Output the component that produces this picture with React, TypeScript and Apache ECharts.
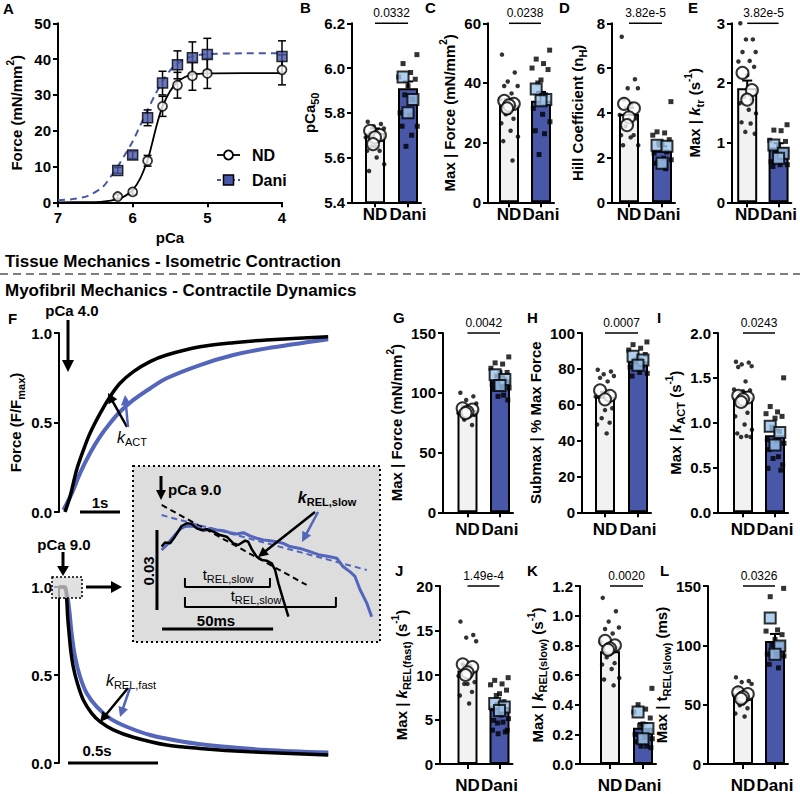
import React, { useEffect, useRef } from 'react';
import * as echarts from 'echarts';

const FONT = '"Liberation Sans", Arial, Helvetica, sans-serif';
const BLUE = '#4857a8';
const TRACE_BLUE = '#5466bb';
const LIGHT_BLUE = '#9ec4ea';
const ND_FILL = '#f2f2f2';

// ---------------- Panel A : force-pCa ----------------
const pCaSteps = [6.2, 6.0, 5.8, 5.6, 5.4, 5.2, 5.0, 4.0];
const ndForce = [1.6, 2.9, 11.6, 26.8, 32.7, 35.3, 36.0, 37.0];
const ndForceSem = [0.6, 0.7, 1.5, 2.8, 3.6, 4.0, 4.2, 4.2];
const daniForce = [8.9, 13.2, 23.6, 33.3, 38.4, 40.4, 41.3, 40.7];
const daniForceSem = [0.8, 1.0, 2.2, 3.3, 3.9, 4.4, 4.5, 4.4];
const ndFitPCa = [7.0, 6.6, 6.4, 6.2, 6.1, 6.0, 5.9, 5.8, 5.75, 5.7, 5.65, 5.6, 5.5, 5.4, 5.3, 5.2, 5.0, 4.5, 4.0];
const ndFitForce = [0, 0.05, 0.2, 0.9, 1.8, 3.4, 6.6, 11.8, 15.6, 19.8, 23.6, 26.8, 31.0, 33.6, 35.0, 35.7, 36.0, 36.1, 36.1];
const daniFitPCa = [7.0, 6.8, 6.6, 6.4, 6.3, 6.2, 6.1, 6.0, 5.9, 5.8, 5.7, 5.6, 5.5, 5.4, 5.3, 5.2, 5.0, 4.5, 4.0];
const daniFitForce = [0.6, 0.9, 1.8, 4.3, 7.0, 10.0, 13.4, 17.0, 21.4, 25.8, 30.0, 33.8, 36.8, 38.8, 40.0, 40.8, 41.4, 41.6, 41.6];

// ---------------- Bar panels (ND vs Dani) ----------------
// B pCa50
const pca50Means = [5.71, 5.91];
const pca50Sem = [0.02, 0.03];
const pca50ND = [5.76, 5.75, 5.74, 5.73, 5.71, 5.71, 5.69, 5.68, 5.65, 5.65, 5.63, 5.63, 5.60, 5.57, 5.54];
const pca50NDHearts = [5.72, 5.70, 5.69, 5.66];
const pca50Dani = [6.06, 6.02, 5.98, 5.96, 5.95, 5.92, 5.88, 5.86, 5.80, 5.79, 5.74, 5.74, 5.70, 5.65];
const pca50DaniHearts = [5.96, 5.86, 5.80];
// C tissue max force
const tForceMeans = [32.6, 34.0];
const tForceSem = [2.0, 3.0];
const tForceND = [49.5, 43.5, 40.5, 39, 39, 36.5, 34.5, 32, 30, 29.5, 28, 26.5, 24, 22, 20.5, 14];
const tForceNDHearts = [34, 33, 32.5, 31.5];
const tForceDani = [51, 48, 46.5, 45, 44.5, 41, 40, 36, 31.5, 29.5, 27, 24, 23, 16];
const tForceDaniHearts = [38, 34.5, 34];
// D Hill coefficient
const hillMeans = [3.95, 2.3];
const hillSem = [0.28, 0.2];
const hillND = [7.4, 5.5, 5.1, 5.1, 4.6, 4.4, 3.9, 3.75, 3.7, 3.4, 3.0, 3.0, 2.9, 2.55, 2.55];
const hillNDHearts = [4.4, 4.2, 3.8, 3.45];
const hillDani = [4.5, 3.15, 3.1, 3.0, 2.8, 2.65, 2.65, 2.25, 2.2, 1.97, 1.9, 1.75, 1.5];
const hillDaniHearts = [2.55, 2.5, 1.75];
// E ktr
const ktrMeans = [1.91, 0.92];
const ktrSem = [0.13, 0.07];
const ktrND = [3.0, 2.73, 2.73, 2.52, 2.52, 2.37, 2.36, 2.27, 2.13, 1.77, 1.72, 1.66, 1.55, 1.49, 1.34, 1.32, 1.18, 1.15];
const ktrNDHearts = [2.17, 1.88, 1.72];
const ktrDani = [1.3, 1.21, 1.2, 1.04, 1.02, 0.95, 0.85, 0.77, 0.68, 0.63, 0.63, 0.6];
const ktrDaniHearts = [0.96, 0.82, 0.74];
// G myofibril max force
const mForceMeans = [85.5, 111];
const mForceSem = [2.5, 2.8];
const mForceND = [100, 97, 94, 91, 88.5, 85, 83, 81.5, 80, 77.5, 73];
const mForceNDHearts = [87, 86, 84, 83];
const mForceDani = [130, 125, 124, 120.5, 117, 117, 114, 111, 107, 104.5, 104, 103, 98, 97, 94];
const mForceDaniHearts = [115, 111, 106];
// H submax
const submaxMeans = [64.5, 84.2];
const submaxSem = [2.6, 1.5];
const submaxND = [79.5, 78.5, 77, 76, 75, 73, 64.5, 58, 57, 52.5, 50, 49, 44];
const submaxNDHearts = [68, 65, 63];
const submaxDani = [95, 93.5, 91.5, 90.5, 88, 86, 84, 82, 81, 78, 77.5, 76];
const submaxDaniHearts = [87, 85, 82];
// I kACT
const kactMeans = [1.28, 0.86];
const kactSem = [0.06, 0.06];
const kactND = [1.68, 1.67, 1.65, 1.63, 1.62, 1.46, 1.37, 1.36, 1.35, 1.25, 1.11, 1.07, 0.98, 0.92, 0.88, 0.85, 0.84, 0.84];
const kactNDHearts = [1.30, 1.28, 1.26, 1.23];
const kactDani = [1.5, 1.18, 1.12, 1.1, 1.07, 1.05, 0.95, 0.9, 0.81, 0.8, 0.77, 0.7, 0.62, 0.6, 0.53, 0.49, 0.47];
const kactDaniHearts = [0.96, 0.89, 0.75];
// J kREL fast
const krfMeans = [10.5, 6.4];
const krfSem = [0.6, 0.45];
const krfND = [16, 14.5, 14.2, 13.8, 11.2, 10.3, 9.9, 9.2, 9.0, 9.0, 8.1, 7.7, 6.8];
const krfNDHearts = [11.2, 10.9, 10.3, 10.0];
const krfDani = [9.7, 9.4, 9.0, 8.9, 8.3, 7.9, 7.7, 7.0, 6.2, 5.5, 5.1, 4.9, 4.7, 4.6, 3.8, 3.8, 3.6, 3.4];
const krfDaniHearts = [6.8, 6.4, 6.0];
// K kREL slow
const krsMeans = [0.76, 0.245];
const krsSem = [0.04, 0.03];
const krsND = [1.12, 1.03, 0.96, 0.92, 0.91, 0.88, 0.82, 0.78, 0.74, 0.72, 0.68, 0.67, 0.64, 0.58, 0.57, 0.53];
const krsNDHearts = [0.83, 0.80, 0.78, 0.77];
const krsDani = [0.51, 0.40, 0.37, 0.35, 0.31, 0.27, 0.26, 0.22, 0.20, 0.18, 0.17, 0.15, 0.12, 0.12, 0.11];
const krsDaniHearts = [0.35, 0.24, 0.17];
// L tREL slow
const trsMeans = [56.4, 103.6];
const trsSem = [2.5, 6.0];
const trsND = [73, 70, 69, 67.5, 64, 61, 58, 55, 51, 49.5, 47, 42.5, 40];
const trsNDHearts = [60.5, 59, 56.5, 55];
const trsDani = [148, 141, 113, 112, 109, 105, 100, 96, 92.5, 92, 91, 84, 81];
const trsDaniHearts = [123, 99.5, 92.5];

// ---------------- Panel F traces ----------------
const actTimeND = [0.15, 0.275, 0.44, 0.61, 0.775, 1.025, 1.275, 1.525, 1.86, 2.275, 2.69, 3.525, 4.36, 5.19, 6.73];
const actND = [0, 0.085, 0.235, 0.346, 0.44, 0.55, 0.644, 0.719, 0.784, 0.84, 0.877, 0.923, 0.946, 0.961, 0.979];
const actTimeDani = [0.11, 0.32, 0.525, 0.775, 1.025, 1.275, 1.525, 1.86, 2.275, 2.69, 3.525, 4.36, 5.19, 6.73];
const actDani = [0.011, 0.104, 0.216, 0.328, 0.421, 0.496, 0.56, 0.626, 0.69, 0.747, 0.821, 0.877, 0.914, 0.965];
const relTimeND = [0, 0.033, 0.043, 0.048, 0.056, 0.065, 0.079, 0.102, 0.135, 0.182, 0.228, 0.302, 0.413, 0.598, 0.783, 1.061, 1.496];
const relND = [1.0, 1.0, 0.926, 0.831, 0.737, 0.642, 0.547, 0.453, 0.358, 0.282, 0.235, 0.188, 0.146, 0.102, 0.083, 0.064, 0.045];
const relTimeDani = [0, 0.024, 0.043, 0.057, 0.07, 0.089, 0.117, 0.154, 0.209, 0.283, 0.376, 0.506, 0.69, 0.876, 1.154, 1.496];
const relDani = [1.0, 1.0, 0.964, 0.869, 0.737, 0.604, 0.49, 0.396, 0.32, 0.254, 0.206, 0.159, 0.121, 0.097, 0.074, 0.059];
// inset (ms, relative force)
const insetTimeND = [12.9, 14.4, 16.7, 18.9, 21.9, 24.2, 26.4, 28.7, 30.9, 33.2, 36.2, 39.2, 42.2, 45.2, 47.4, 50.5, 51.9, 53.5, 55.7, 58.0, 60.2, 62.5, 64.0, 65.5, 67.7, 70.0];
const insetND = [0.9698, 0.9713, 0.9710, 0.9735, 0.9775, 0.9785, 0.9783, 0.9766, 0.9760, 0.9763, 0.9754, 0.9741, 0.9735, 0.9710, 0.9704, 0.9720, 0.9716, 0.9688, 0.9660, 0.9648, 0.9645, 0.9635, 0.9610, 0.9560, 0.9498, 0.9435];
const insetTimeDani = [12.9, 15.2, 18.2, 21.2, 23.4, 26.4, 29.4, 31.7, 34.7, 37.7, 40.7, 43.7, 46.7, 49.7, 52.7, 55.7, 58.7, 61.7, 64.7, 67.7, 70.7, 75.2, 79.7, 84.2, 88.7, 91.8, 94.7, 97.7, 100.0, 102.3, 105.3, 107.5];
const insetDani = [0.9685, 0.9704, 0.9735, 0.9763, 0.9773, 0.9775, 0.9770, 0.9757, 0.9766, 0.9760, 0.9757, 0.9750, 0.9745, 0.9750, 0.9738, 0.9729, 0.9723, 0.9720, 0.9716, 0.9710, 0.9698, 0.9691, 0.9679, 0.9666, 0.9660, 0.9654, 0.9622, 0.9604, 0.9586, 0.9536, 0.9486, 0.9435];
const insetFitND = [[12.9, 0.9854], [78.2, 0.9554]];
const insetFitDani = [[12.9, 0.9816], [105.3, 0.9610]];

const DOT_JITTER = [-0.22, 0.18, -0.04, 0.27, -0.15, 0.08, -0.28, 0.22, 0.0, -0.1, 0.14, -0.24, 0.05, 0.28, -0.18, 0.11, -0.06, 0.24];
const HEART_JITTER = [-0.15, 0.15, 0.0, -0.06];

const ROWS: any = {
  1: { top: 23.3, bottom: 202.3, labelMargin: 4 },
  2: { top: 333, bottom: 512.3, labelMargin: 9 },
  3: { top: 586, bottom: 766, labelMargin: 13 },
};

const RICH: any = {
  sup: { fontFamily: FONT, fontWeight: 'bold', fontSize: 10, color: '#000', verticalAlign: 'top', lineHeight: 11 },
  sub: { fontFamily: FONT, fontWeight: 'bold', fontSize: 11, color: '#000', verticalAlign: 'bottom', lineHeight: 12 },
  i: { fontFamily: FONT, fontWeight: 'bold', fontStyle: 'italic', fontSize: 15, color: '#000', lineHeight: 22 },
};

const BAR_PANELS: any[] = [
  { letter: 'B', lx: 300, row: 1, axisX: 352, nd: 375, dani: 408, min: 5.4, max: 6.2, interval: 0.2, dec: 1, name: 'pCa{sub|50}', nameGap: 31, p: '0.0332', means: pca50Means, sem: pca50Sem, ndDots: pca50ND, ndHearts: pca50NDHearts, daniDots: pca50Dani, daniHearts: pca50DaniHearts },
  { letter: 'C', lx: 425, row: 1, axisX: 488, nd: 509, dani: 541, min: 0, max: 60, interval: 20, dec: 0, name: 'Max | Force (mN/mm{sup|2})', nameGap: 24, p: '0.0238', means: tForceMeans, sem: tForceSem, ndDots: tForceND, ndHearts: tForceNDHearts, daniDots: tForceDani, daniHearts: tForceDaniHearts },
  { letter: 'D', lx: 559, row: 1, axisX: 612, nd: 629, dani: 662, min: 0, max: 8, interval: 2, dec: 0, name: 'Hill Coefficient (n{sub|H})', nameGap: 24, p: '3.82e-5', means: hillMeans, sem: hillSem, ndDots: hillND, ndHearts: hillNDHearts, daniDots: hillDani, daniHearts: hillDaniHearts },
  { letter: 'E', lx: 688, row: 1, axisX: 732, nd: 747.5, dani: 779.5, min: 0, max: 3, interval: 1, dec: 0, name: 'Max | {i|k}{sub|tr} (s{sup|-1})', nameGap: 27, p: '3.82e-5', means: ktrMeans, sem: ktrSem, ndDots: ktrND, ndHearts: ktrNDHearts, daniDots: ktrDani, daniHearts: ktrDaniHearts },
  { letter: 'G', lx: 393, row: 2, axisX: 443, nd: 467.5, dani: 500, min: 0, max: 150, interval: 50, dec: 0, name: 'Max | Force (mN/mm{sup|2})', nameGap: 31, p: '0.0042', means: mForceMeans, sem: mForceSem, ndDots: mForceND, ndHearts: mForceNDHearts, daniDots: mForceDani, daniHearts: mForceDaniHearts },
  { letter: 'H', lx: 527, row: 2, axisX: 582, nd: 605, dani: 638, min: 0, max: 100, interval: 20, dec: 0, name: 'Submax | % Max Force', nameGap: 29, p: '0.0007', means: submaxMeans, sem: submaxSem, ndDots: submaxND, ndHearts: submaxNDHearts, daniDots: submaxDani, daniHearts: submaxDaniHearts },
  { letter: 'I', lx: 657, row: 2, axisX: 718, nd: 743, dani: 775, min: 0, max: 2, interval: 0.5, dec: 1, name: 'Max | {i|k}{sub|ACT} (s{sup|-1})', nameGap: 31, p: '0.0243', means: kactMeans, sem: kactSem, ndDots: kactND, ndHearts: kactNDHearts, daniDots: kactDani, daniHearts: kactDaniHearts },
  { letter: 'J', lx: 395, row: 3, axisX: 440, nd: 467.5, dani: 499.5, min: 0, max: 20, interval: 5, dec: 0, name: 'Max | {i|k}{sub|REL(fast)} (s{sup|-1})', nameGap: 20, p: '1.49e-4', means: krfMeans, sem: krfSem, ndDots: krfND, ndHearts: krfNDHearts, daniDots: krfDani, daniHearts: krfDaniHearts },
  { letter: 'K', lx: 527, row: 3, axisX: 580, nd: 610, dani: 643, min: 0, max: 1.2, interval: 0.2, dec: 1, name: 'Max | {i|k}{sub|REL(slow)} (s{sup|-1})', nameGap: 22, p: '0.0020', means: krsMeans, sem: krsSem, ndDots: krsND, ndHearts: krsNDHearts, daniDots: krsDani, daniHearts: krsDaniHearts },
  { letter: 'L', lx: 660, row: 3, axisX: 708, nd: 743, dani: 775, min: 0, max: 150, interval: 50, dec: 0, name: 'Max | t{sub|REL(slow)} (ms)', nameGap: 16, p: '0.0326', means: trsMeans, sem: trsSem, ndDots: trsND, ndHearts: trsNDHearts, daniDots: trsDani, daniHearts: trsDaniHearts },
];

const LINE = { color: '#000', width: 2 };

function txt(x: number, y: number, text: string, size = 15, weight = 'bold', align = 'center', extra: any = {}) {
  return {
    type: 'text', x, y, z: 60,
    style: { text, fontFamily: FONT, fontSize: size, fontWeight: weight, fill: '#000', align, verticalAlign: 'middle', textAlign: align, textVerticalAlign: 'middle', ...extra },
  };
}

function arrow(x1: number, y1: number, x2: number, y2: number, color = '#000', lw = 2.5, head = 10, hw = 5) {
  const dx = x2 - x1, dy = y2 - y1, L = Math.hypot(dx, dy), ux = dx / L, uy = dy / L;
  const bx = x2 - ux * head, by = y2 - uy * head;
  return [
    { type: 'line', z: 60, shape: { x1, y1, x2: bx + ux, y2: by + uy }, style: { stroke: color, lineWidth: lw } },
    { type: 'polygon', z: 60, shape: { points: [[x2, y2], [bx - uy * hw, by + ux * hw], [bx + uy * hw, by - ux * hw]] }, style: { fill: color } },
  ];
}

function buildOption() {
  const grids: any[] = [];
  const xAxes: any[] = [];
  const yAxes: any[] = [];
  const series: any[] = [];
  const g: any[] = [];

  const tickLabel = (dec: number, margin = 7) => ({
    fontFamily: FONT, fontWeight: 'bold', fontSize: 15, color: '#000', margin,
    formatter: (v: number) => v.toFixed(dec),
  });
  const nameStyle = { fontFamily: FONT, fontWeight: 'bold', fontSize: 15, color: '#000', lineHeight: 22, rich: RICH };
  const axisTick = { show: true, length: 5, lineStyle: LINE };

  // ---------- Panel A ----------
  grids.push({ left: 58, top: 23.3, width: 224, height: 179 });
  xAxes.push({
    gridIndex: 0, type: 'value', inverse: true, min: 4, max: 7, interval: 1,
    axisLine: { show: true, onZero: false, lineStyle: LINE }, axisTick, splitLine: { show: false },
    axisLabel: tickLabel(0, 8), name: 'pCa', nameLocation: 'middle', nameGap: 20, nameTextStyle: nameStyle,
  });
  yAxes.push({
    gridIndex: 0, type: 'value', min: 0, max: 50, interval: 10,
    axisLine: { show: true, onZero: false, lineStyle: LINE }, axisTick, splitLine: { show: false },
    axisLabel: tickLabel(0), name: 'Force (mN/mm{sup|2})', nameLocation: 'middle', nameGap: 31, nameTextStyle: nameStyle,
  });
  const errBoth = (params: any, api: any) => {
    const x = api.value(0), m = api.value(1), s = api.value(2);
    const t = api.coord([x, m + s]), b = api.coord([x, m - s]);
    const st = { stroke: '#000', lineWidth: 1.5 };
    return {
      type: 'group', children: [
        { type: 'line', shape: { x1: t[0], y1: t[1], x2: b[0], y2: b[1] }, style: st },
        { type: 'line', shape: { x1: t[0] - 4, y1: t[1], x2: t[0] + 4, y2: t[1] }, style: st },
        { type: 'line', shape: { x1: b[0] - 4, y1: b[1], x2: b[0] + 4, y2: b[1] }, style: st },
      ],
    };
  };
  series.push({ type: 'line', xAxisIndex: 0, yAxisIndex: 0, data: ndFitPCa.map((p, i) => [p, ndFitForce[i]]), smooth: 0.3, symbol: 'none', lineStyle: { color: '#000', width: 1.8 }, z: 2, silent: true });
  series.push({ type: 'line', xAxisIndex: 0, yAxisIndex: 0, data: daniFitPCa.map((p, i) => [p, daniFitForce[i]]), smooth: 0.3, symbol: 'none', lineStyle: { color: BLUE, width: 2, type: [7, 5] }, z: 2, silent: true });
  series.push({ type: 'custom', xAxisIndex: 0, yAxisIndex: 0, renderItem: errBoth, data: pCaSteps.map((p, i) => [p, ndForce[i], ndForceSem[i]]), z: 3, silent: true });
  series.push({ type: 'custom', xAxisIndex: 0, yAxisIndex: 0, renderItem: errBoth, data: pCaSteps.map((p, i) => [p, daniForce[i], daniForceSem[i]]), z: 3, silent: true });
  series.push({ type: 'scatter', xAxisIndex: 0, yAxisIndex: 0, data: pCaSteps.map((p, i) => [p, ndForce[i]]), symbol: 'circle', symbolSize: 9, itemStyle: { color: '#fff', borderColor: '#000', borderWidth: 1.8 }, z: 4, silent: true });
  series.push({ type: 'scatter', xAxisIndex: 0, yAxisIndex: 0, data: pCaSteps.map((p, i) => [p, daniForce[i]]), symbol: 'rect', symbolSize: 10, itemStyle: { color: BLUE, borderColor: '#000', borderWidth: 1.5 }, z: 5, silent: true });

  // legend A
  g.push({ type: 'line', z: 60, shape: { x1: 217, y1: 155, x2: 240, y2: 155 }, style: { stroke: '#000', lineWidth: 1.8 } });
  g.push({ type: 'circle', z: 61, shape: { cx: 228.5, cy: 155, r: 4.5 }, style: { fill: '#fff', stroke: '#000', lineWidth: 1.8 } });
  g.push(txt(252, 155, 'ND', 16, 'bold', 'left'));
  g.push({ type: 'line', z: 60, shape: { x1: 217, y1: 180, x2: 240, y2: 180 }, style: { stroke: BLUE, lineWidth: 2, lineDash: [4, 3] } });
  g.push({ type: 'rect', z: 61, shape: { x: 223.5, y: 175, width: 10, height: 10 }, style: { fill: BLUE, stroke: '#000', lineWidth: 1.5 } });
  g.push(txt(252, 180, 'Dani', 16, 'bold', 'left'));

  // ---------- Bar panels ----------
  const errUp = (params: any, api: any) => {
    const x = api.value(0), m = api.value(1), s = api.value(2);
    const p0 = api.coord([x, m]), p1 = api.coord([x, m + s]);
    const st = { stroke: '#000', lineWidth: 2 };
    return {
      type: 'group', children: [
        { type: 'line', shape: { x1: p0[0], y1: p0[1], x2: p1[0], y2: p1[1] }, style: st },
        { type: 'line', shape: { x1: p1[0] - 5, y1: p1[1], x2: p1[0] + 5, y2: p1[1] }, style: st },
      ],
    };
  };
  BAR_PANELS.forEach((c) => {
    const idx = grids.length;
    const R = ROWS[c.row];
    const unit = c.dani - c.nd;
    const right = c.dani + 13;
    grids.push({ left: c.axisX, top: R.top, width: right - c.axisX, height: R.bottom - R.top });
    xAxes.push({
      gridIndex: idx, type: 'value', min: 1 - (c.nd - c.axisX) / unit, max: 2 + (right - c.dani) / unit,
      axisLine: { show: true, onZero: false, lineStyle: LINE }, splitLine: { show: false },
      axisTick: { show: true, length: 5, lineStyle: LINE, customValues: [1, 2] },
      axisLabel: {
        customValues: [1, 2], fontFamily: FONT, fontWeight: 'bold', fontSize: 17, color: '#000', margin: R.labelMargin,
        formatter: (v: number) => (Math.round(v) === 1 ? 'ND' : 'Dani'),
      },
    });
    yAxes.push({
      gridIndex: idx, type: 'value', min: c.min, max: c.max, interval: c.interval,
      axisLine: { show: true, onZero: false, lineStyle: LINE }, axisTick, splitLine: { show: false },
      axisLabel: tickLabel(c.dec), name: c.name, nameLocation: 'middle', nameGap: c.nameGap, nameTextStyle: nameStyle,
    });
    const ax = { xAxisIndex: idx, yAxisIndex: idx, silent: true };
    series.push({
      ...ax, type: 'bar', barWidth: 20, z: 2,
      itemStyle: { borderColor: '#000', borderWidth: 2 },
      data: [
        { value: [1, c.means[0]], itemStyle: { color: ND_FILL } },
        { value: [2, c.means[1]], itemStyle: { color: BLUE } },
      ],
    });
    series.push({ ...ax, type: 'scatter', z: 3, symbol: 'circle', symbolSize: 4.5, itemStyle: { color: '#000' }, data: c.ndDots.map((v: number, i: number) => [1 + DOT_JITTER[i % DOT_JITTER.length], v]) });
    series.push({ ...ax, type: 'scatter', z: 3, symbol: 'rect', symbolSize: 5, itemStyle: { color: '#000' }, data: c.daniDots.map((v: number, i: number) => [2 + DOT_JITTER[(i + 3) % DOT_JITTER.length], v]) });
    series.push({ ...ax, type: 'custom', z: 4, renderItem: errUp, data: [[1, c.means[0], c.sem[0]], [2, c.means[1], c.sem[1]]] });
    series.push({ ...ax, type: 'scatter', z: 5, symbol: 'circle', symbolSize: 12, itemStyle: { color: '#fff', borderColor: '#000', borderWidth: 2 }, data: c.ndHearts.map((v: number, i: number) => [1 + HEART_JITTER[i], v]) });
    series.push({ ...ax, type: 'scatter', z: 5, symbol: 'rect', symbolSize: 11, itemStyle: { color: LIGHT_BLUE, borderColor: '#000', borderWidth: 2 }, data: c.daniHearts.map((v: number, i: number) => [2 + HEART_JITTER[i], v]) });
    series.push({ ...ax, type: 'line', z: 5, clip: false, symbol: 'none', lineStyle: { color: '#000', width: 1.5 }, data: [[1, c.max], [2, c.max]] });
    g.push(txt((c.nd + c.dani) / 2, R.top - 10, c.p, 12, 'normal'));
    g.push(txt(c.lx, R.top - 16, c.letter, 15, 'bold', 'left'));
  });

  // ---------- Panel F top (activation) ----------
  const fT = grids.length;
  grids.push({ left: 59, top: 333, width: 290, height: 179 });
  xAxes.push({ gridIndex: fT, type: 'value', min: 0, max: 7.25, show: false });
  yAxes.push({
    gridIndex: fT, type: 'value', min: 0, max: 1, interval: 0.5,
    axisLine: { show: true, onZero: false, lineStyle: LINE }, axisTick, splitLine: { show: false },
    axisLabel: tickLabel(1), name: 'Force (F/F{sub|max})', nameLocation: 'middle', nameGap: 33, nameTextStyle: nameStyle,
  });
  const fa = { xAxisIndex: fT, yAxisIndex: fT, silent: true, symbol: 'none', type: 'line' };
  series.push({ ...fa, z: 3, smooth: 0.3, data: actTimeDani.map((t, i) => [t, actDani[i]]), lineStyle: { color: TRACE_BLUE, width: 4 } });
  series.push({ ...fa, z: 4, smooth: 0.3, data: actTimeND.map((t, i) => [t, actND[i]]), lineStyle: { color: '#000', width: 3.5 } });
  series.push({ ...fa, z: 4, clip: false, data: [[0.525, 0], [1.525, 0]], lineStyle: { color: '#000', width: 3 } });

  // ---------- Panel F bottom (relaxation) ----------
  const fB = grids.length;
  grids.push({ left: 59, top: 587, width: 290, height: 176 });
  xAxes.push({ gridIndex: fB, type: 'value', min: 0, max: 290 / 180, show: false });
  yAxes.push({
    gridIndex: fB, type: 'value', min: 0, max: 1, interval: 0.5,
    axisLine: { show: true, onZero: false, lineStyle: LINE }, axisTick, splitLine: { show: false },
    axisLabel: tickLabel(1),
  });
  const fb = { xAxisIndex: fB, yAxisIndex: fB, silent: true, symbol: 'none', type: 'line' };
  series.push({ ...fb, z: 3, smooth: 0.3, clip: false, data: relTimeDani.map((t, i) => [t, relDani[i]]), lineStyle: { color: TRACE_BLUE, width: 4 } });
  series.push({ ...fb, z: 4, smooth: 0.3, clip: false, data: relTimeND.map((t, i) => [t, relND[i]]), lineStyle: { color: '#000', width: 3.5 } });
  series.push({ ...fb, z: 4, clip: false, data: [[0.05, 0], [0.55, 0]], lineStyle: { color: '#000', width: 3 } });

  // ---------- Inset ----------
  const fI = grids.length;
  grids.push({ left: 133, top: 466, width: 247, height: 176 });
  xAxes.push({ gridIndex: fI, type: 'value', min: 0, max: 247 / 2.22, show: false });
  yAxes.push({ gridIndex: fI, type: 'value', min: 1 - 176 / 2667, max: 1, show: false });
  const fi = { xAxisIndex: fI, yAxisIndex: fI, silent: true, symbol: 'none', type: 'line', clip: false };
  series.push({ ...fi, z: 3, data: insetFitDani, lineStyle: { color: TRACE_BLUE, width: 2, type: [6, 4] } });
  series.push({ ...fi, z: 3, data: insetFitND, lineStyle: { color: '#000', width: 2, type: [6, 4] } });
  series.push({ ...fi, z: 3, data: insetTimeDani.map((t, i) => [t, insetDani[i]]), lineStyle: { color: TRACE_BLUE, width: 3 } });
  series.push({ ...fi, z: 4, data: insetTimeND.map((t, i) => [t, insetND[i]]), lineStyle: { color: '#000', width: 2.5 } });
  series.push({ ...fi, z: 4, data: [[10.8, 0.976], [10.8, 0.946]], lineStyle: { color: '#000', width: 3 } });
  series.push({ ...fi, z: 4, data: [[13.1, 0.9389], [63.1, 0.9389]], lineStyle: { color: '#000', width: 3 } });
  series.push({ ...fi, z: 4, data: [[23.4, 0.958], [23.4, 0.9546], [61.7, 0.9546], [61.7, 0.958]], lineStyle: { color: '#000', width: 2 } });
  series.push({ ...fi, z: 4, data: [[23.4, 0.9509], [23.4, 0.9471], [91.4, 0.9471], [91.4, 0.9509]], lineStyle: { color: '#000', width: 2 } });

  g.push({ type: 'rect', z: 0, shape: { x: 133, y: 466, width: 247, height: 176 }, style: { fill: '#dddddd', stroke: '#000', lineWidth: 2, lineDash: [2, 3] } });

  // F annotations
  g.push(txt(8, 318, 'F', 15, 'bold', 'left'));
  g.push(txt(72, 310, 'pCa 4.0', 15));
  g.push(...arrow(68, 320, 68, 372, '#000', 3, 12, 6));
  g.push(txt(100, 502, '1s', 15));
  const kRich: any = {
    i: { fontFamily: FONT, fontSize: 16, fontStyle: 'italic', fill: '#000', lineHeight: 20 },
    s: { fontFamily: FONT, fontSize: 11, fill: '#000', verticalAlign: 'bottom', lineHeight: 12 },
    bi: { fontFamily: FONT, fontSize: 16, fontStyle: 'italic', fontWeight: 'bold', fill: '#000', lineHeight: 20 },
    bs: { fontFamily: FONT, fontSize: 11, fontWeight: 'bold', fill: '#000', verticalAlign: 'bottom', lineHeight: 12 },
    t: { fontFamily: FONT, fontSize: 15, fill: '#000', lineHeight: 20 },
  };
  g.push(txt(132, 437, '{i|k}{s|ACT}', 15, 'normal', 'center', { rich: kRich }));
  g.push(...arrow(127, 427, 108, 393, '#000', 2.5, 10, 5));
  g.push(...arrow(128, 427, 125, 395, TRACE_BLUE, 2.5, 10, 5));
  g.push(txt(64, 544, 'pCa 9.0', 15));
  g.push(...arrow(63, 552, 63, 576, '#000', 3, 10, 6));
  g.push({ type: 'rect', z: 50, shape: { x: 52, y: 577, width: 30, height: 21 }, style: { fill: 'rgba(215,215,215,0.75)', stroke: '#000', lineWidth: 1.5, lineDash: [2, 2] } });
  g.push(...arrow(86, 587, 122, 587, '#000', 3, 11, 6));
  g.push(txt(97, 750, '0.5s', 15));
  g.push(txt(131, 680, '{i|k}{s|REL,fast}', 15, 'normal', 'center', { rich: kRich }));
  g.push(...arrow(128, 688, 100, 722, '#000', 2.5, 10, 5));
  g.push(...arrow(130, 688, 120, 717, TRACE_BLUE, 2.5, 10, 5));
  // inset texts
  g.push(txt(168, 489, 'pCa 9.0', 15, 'bold', 'left'));
  g.push(...arrow(161, 476, 161, 500, '#000', 3, 10, 5));
  g.push(txt(327, 497, '{bi|k}{bs|REL,slow}', 15, 'bold', 'center', { rich: kRich }));
  g.push(...arrow(315, 512, 258, 557, '#000', 2.5, 10, 5));
  g.push(...arrow(318, 512, 302, 542, TRACE_BLUE, 2.5, 10, 5));
  g.push(txt(228, 574, '{t|t}{s|REL,slow}', 15, 'normal', 'center', { rich: kRich }));
  g.push(txt(256, 595, '{t|t}{s|REL,slow}', 15, 'normal', 'center', { rich: kRich }));
  g.push({ ...txt(0, 0, '0.03', 15), x: 148, y: 571, rotation: Math.PI / 2 });
  g.push(txt(216, 620, '50ms', 15));

  // section titles and separator
  g.push(txt(3, 8, 'A', 15, 'bold', 'left'));
  g.push(txt(5, 261, 'Tissue Mechanics - Isometric Contraction', 17, 'bold', 'left'));
  g.push({ type: 'line', z: 60, shape: { x1: 0, y1: 274, x2: 800, y2: 274 }, style: { stroke: '#555', lineWidth: 1.5, lineDash: [8, 5] } });
  g.push(txt(5, 290, 'Myofibril Mechanics - Contractile Dynamics', 17, 'bold', 'left'));

  return {
    animation: false,
    backgroundColor: '#fff',
    grid: grids,
    xAxis: xAxes,
    yAxis: yAxes,
    series,
    graphic: { elements: g },
  };
}

export default function App() {
  const ref = useRef<HTMLDivElement>(null);
  useEffect(() => {
    const chart = echarts.init(ref.current as HTMLDivElement, null, { renderer: 'svg' });
    chart.setOption(buildOption() as any);
    return () => chart.dispose();
  }, []);
  return <div ref={ref} style={{ position: 'fixed', left: 0, top: 0, width: 800, height: 794, background: '#fff' }} />;
}
